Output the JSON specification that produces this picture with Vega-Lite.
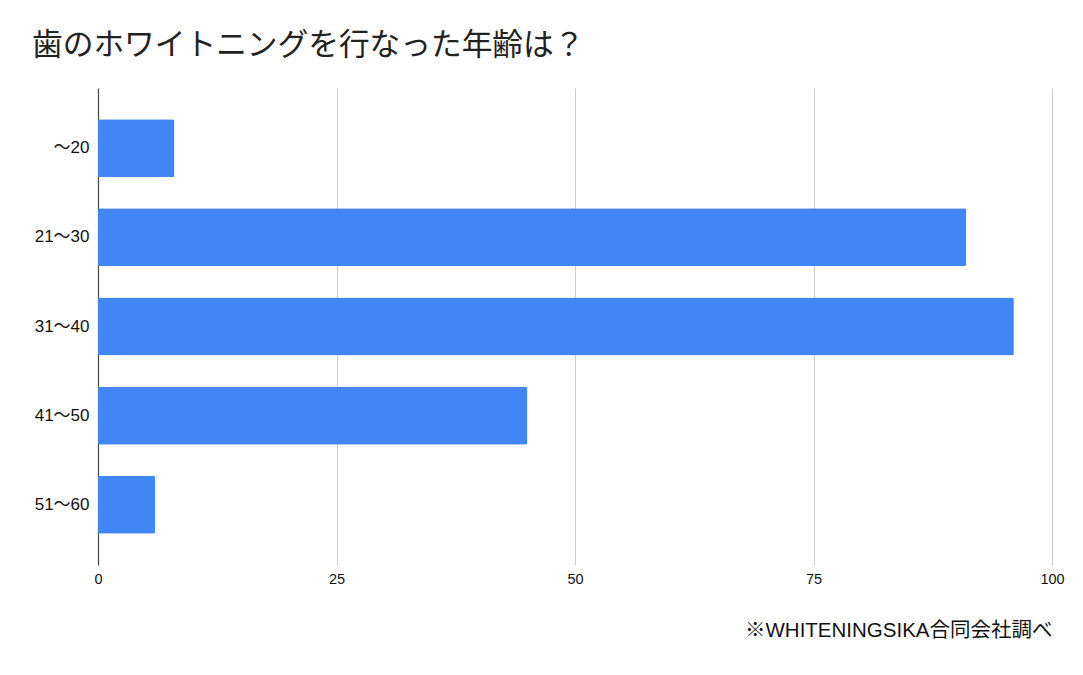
{
  "$schema": "https://vega.github.io/schema/vega-lite/v6.json",
  "description": "Age at which teeth whitening was done",
  "autosize": "none",
  "width": 954,
  "height": 477,
  "padding": {"left": 98, "top": 88, "right": 31, "bottom": 110},
  "background": "white",
  "title": {
    "text": "歯のホワイトニングを行なった年齢は？",
    "anchor": "start",
    "frame": "group",
    "dx": -66,
    "dy": 28,
    "offset": 30,
    "baseline": "alphabetic",
    "font": "Noto Sans CJK JP",
    "fontSize": 30.7,
    "fontWeight": "normal",
    "color": "#222222"
  },
  "data": {
    "values": [
      {"age": "～20", "count": 8},
      {"age": "21～30", "count": 91},
      {"age": "31～40", "count": 96},
      {"age": "41～50", "count": 45},
      {"age": "51～60", "count": 6}
    ]
  },
  "mark": {"type": "bar", "color": "#4285F4", "cornerRadiusEnd": 2},
  "encoding": {
    "y": {
      "field": "age",
      "type": "nominal",
      "sort": null,
      "scale": {"paddingInner": 0.35, "paddingOuter": 0.35},
      "axis": {
        "title": null,
        "domain": true,
        "domainColor": "#444444",
        "domainWidth": 1.2,
        "ticks": false,
        "tickSize": 0,
        "labelPadding": 9,
        "labelFont": "Liberation Sans, Noto Sans CJK JP",
        "labelFontSize": 17,
        "labelColor": "#111111"
      }
    },
    "x": {
      "field": "count",
      "type": "quantitative",
      "scale": {"domain": [0, 100], "nice": false},
      "axis": {
        "values": [0, 25, 50, 75, 100],
        "title": "※WHITENINGSIKA合同会社調べ",
        "titleAnchor": "end",
        "titleY": 71,
        "titleBaseline": "alphabetic",
        "titleFont": "Liberation Sans, Noto Sans CJK JP",
        "titleFontSize": 20.5,
        "titleFontWeight": "normal",
        "titleColor": "#111111",
        "domain": false,
        "ticks": false,
        "tickSize": 0,
        "grid": true,
        "gridColor": "#cccccc",
        "labelFlush": false,
        "labelPadding": 7,
        "labelFont": "Liberation Sans",
        "labelFontSize": 14.5,
        "labelColor": "#111111"
      }
    }
  },
  "config": {
    "view": {"stroke": null}
  }
}
